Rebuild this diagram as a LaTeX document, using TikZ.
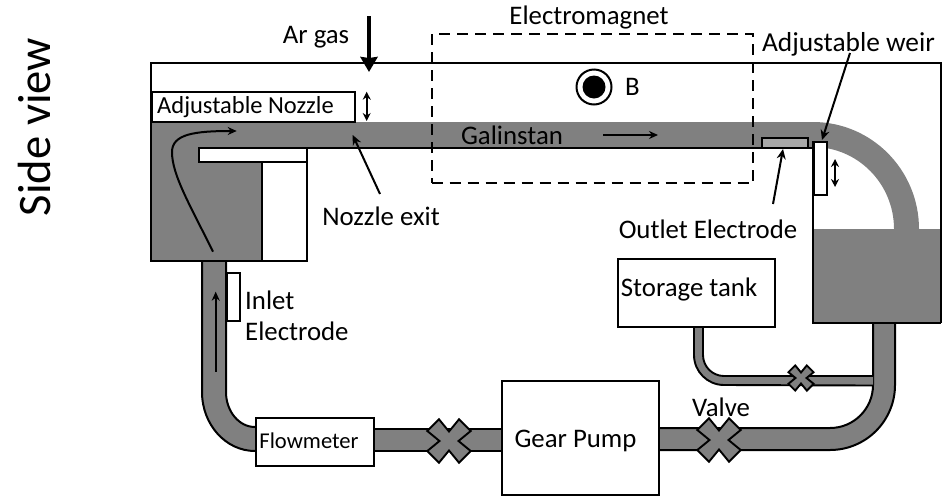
\documentclass[tikz,border=0pt]{standalone}
\usepackage{fontspec}
\setmainfont{Carlito}
\usetikzlibrary{arrows.meta}
\definecolor{fluid}{gray}{0.5}
\definecolor{elec}{gray}{0.66}
\tikzset{
  wall/.style={draw=black,line width=2pt},
  pipeedge/.style={draw=black,line width=2pt},
  thinedge/.style={draw=black,line width=1.9pt},
  whitebox/.style={draw=black,line width=2pt,fill=white,inner sep=0pt,anchor=north west},
  lab/.style={inner sep=0pt,font=\fontsize{26.8}{30}\selectfont,text=black},
  note/.style={draw=black,line width=2pt,-{Stealth[length=10pt,width=9pt]}},
  updown/.style={draw=black,line width=1.9pt,{Stealth[length=8pt,width=8pt]}-{Stealth[length=8pt,width=8pt]}},
  flow/.style={draw=black,line width=2pt,-{Stealth[length=9pt,width=8pt]}},
  valvex/.style={fill=fluid,draw=black,line width=1.9pt,line join=miter},
}
\newcommand{\xvalve}[3]{%
  \draw[valvex,shift={(#1,#2)},scale=#3]
   (0,-9.5)--(10,-21.7)--(21.7,-10)--(9.5,0)--(21.7,10)--(10,21.7)--(0,9.5)
   --(-10,21.7)--(-21.7,10)--(-9.5,0)--(-21.7,-10)--(-10,-21.7)--cycle;}
\begin{document}
\begin{tikzpicture}[x=1pt,y=-1pt]
\useasboundingbox (0,0) rectangle (944,496);
% fluid regions
\fill[fluid] (151,122) -- (813,122)
  arc[start angle=-90,end angle=0,x radius=106,y radius=107] -- (894,229)
  arc[start angle=0,end angle=-90,x radius=81,y radius=82] -- (199,147) -- (199,162) -- (262,162) -- (262,261) -- (151,261) -- cycle;
\fill[fluid] (813,229) rectangle (940,323);
% lower main pipe
\fill[fluid] (202,261) -- (226,261) -- (226,392) arc[start angle=-180,end angle=-270,x radius=29,y radius=35] -- (255,451)
  arc[start angle=-270,end angle=-180,x radius=53,y radius=59] -- cycle;
\draw[pipeedge] (202,261) -- (202,392) arc[start angle=-180,end angle=-270,x radius=53,y radius=59];
\draw[pipeedge] (226,261) -- (226,392) arc[start angle=-180,end angle=-270,x radius=29,y radius=35];
\fill[fluid] (373,429) rectangle (501,451);
\draw[pipeedge] (373,429) -- (501,429) (373,451) -- (501,451);
\fill[fluid] (658,428) -- (830,428) arc[start angle=90,end angle=0,radius=43] -- (873,323) -- (895,323) -- (895,385)
  arc[start angle=0,end angle=90,radius=65] -- (658,450) -- cycle;
\draw[pipeedge] (658,428) -- (830,428) arc[start angle=90,end angle=0,radius=43] -- (873,323);
\draw[pipeedge] (658,450) -- (830,450) arc[start angle=90,end angle=0,radius=65] -- (895,323);
% thin pipe
\fill[fluid] (694,326) -- (703,326) -- (703,355) arc[start angle=180,end angle=90,radius=21] -- (873,376) -- (873,385.5) -- (724,385.5)
  arc[start angle=90,end angle=180,radius=30] -- cycle;
\draw[thinedge] (694,326) -- (694,355) arc[start angle=180,end angle=90,radius=30] -- (873,385.5);
\draw[thinedge] (703,326) -- (703,355) arc[start angle=180,end angle=90,radius=21] -- (873,376);
% walls
\draw[wall,line join=miter] (813,323) -- (813,141) (940.5,323) -- (940.5,62.5) -- (150.5,62.5) -- (150.5,261) -- (306.5,261) -- (306.5,147.5) -- (812,147.5);
\draw[wall] (812,323) -- (941,323);
\draw[wall,fill=white] (199,147.5) rectangle (306.5,162);
\draw[wall,fill=white] (262,162) rectangle (306.5,261);
% boxes
\node[whitebox,minimum width=203.5pt,minimum height=30.5pt] (nozzle) at (150.5,90.7) {};
\node[lab,anchor=west,font=\fontsize{24.5}{28}\selectfont] at (157,107) {Adjustable Nozzle};
\node[whitebox,minimum width=46pt,minimum height=10.5pt,fill=elec] (outlet) at (761,136.7) {};
\node[whitebox,minimum width=12.5pt,minimum height=53pt] (weir) at (813,140.7) {};
\node[whitebox,minimum width=13pt,minimum height=48.5pt] (inlet) at (226,271.7) {};
\node[whitebox,minimum width=117.5pt,minimum height=48.5pt] (fm) at (255,416.7) {};
\node[lab,font=\fontsize{22.6}{26}\selectfont] at (309,441) {Flowmeter};
\node[whitebox,minimum width=157.5pt,minimum height=113.5pt] (pump) at (500.7,380) {};
\node[lab] at (575.5,441) {Gear Pump};
\node[whitebox,minimum width=157pt,minimum height=68.5pt] (tank) at (617,257.7) {};
\node[lab] at (689,289) {Storage tank};
% valves
\xvalve{449}{441}{1}
\xvalve{719}{440}{1}
\xvalve{801}{378}{0.58}
% electromagnet
\node[draw=black,line width=2pt,dash pattern=on 11pt off 7pt,minimum width=321.5pt,minimum height=149pt,inner sep=0pt,anchor=north west] (magnet) at (430.5,33) {};
\node[lab] at (589,17) {Electromagnet};
\node[circle,draw=black,line width=2pt,minimum size=35pt,inner sep=0pt] (field) at (594,87) {};
\node[circle,fill=black,minimum size=23pt,inner sep=0pt] at (field.center) {};
\node[lab,anchor=west] at (625,87) {B};
% labels
\node[lab,rotate=90,font=\fontsize{46.6}{50}\selectfont] at (34,127) {Side view};
\node[lab] (ar) at (316,37) {Ar gas};
\node[lab] (gal) at (512,135) {Galinstan};
\node[lab] (exit) at (381,216) {Nozzle exit};
\node[lab] (outl) at (708,229) {Outlet Electrode};
\node[lab,font=\fontsize{27.4}{30}\selectfont] (weirl) at (848.5,44) {Adjustable weir};
\node[lab,anchor=west] at (245,300) {Inlet};
\node[lab,anchor=west] at (245,331) {Electrode};
\node[lab] at (721,407) {Valve};
% arrows
\coordinate (a1) at (369,16); \coordinate (a2) at (369,72);
\draw[draw=black,line width=3.8pt,-{Stealth[length=15pt,width=17pt,inset=1pt]}] (a1) -- (a2);
\coordinate (n1) at (380,194); \coordinate (n2) at (352.7,135);
\draw[note] (n1) -- (n2);
\coordinate (o1) at (773,204); \coordinate (o2) at (783,149);
\draw[note] (o1) -- (o2);
\coordinate (w1) at (850,53); \coordinate (w2) at (822,140);
\draw[note] (w1) -- (w2);
\coordinate (d1) at (366.7,91.7); \coordinate (d2) at (366.7,121);
\draw[updown] (d1) -- (d2);
\coordinate (d3) at (835,159); \coordinate (d4) at (835,187);
\draw[updown] (d3) -- (d4);
\coordinate (g1) at (603,135); \coordinate (g2) at (658,135);
\draw[flow] (g1) -- (g2);
\coordinate (f1) at (215.7,371.7); \coordinate (f2) at (215.7,291.7);
\draw[flow] (f1) -- (f2);
\coordinate (c1) at (213,251.7); \coordinate (c2) at (236.7,131);
\draw[flow] (c1) .. controls (190,205) and (172,175) .. (172,152) .. controls (172,134) and (195,131) .. (c2);
\end{tikzpicture}
\end{document}
